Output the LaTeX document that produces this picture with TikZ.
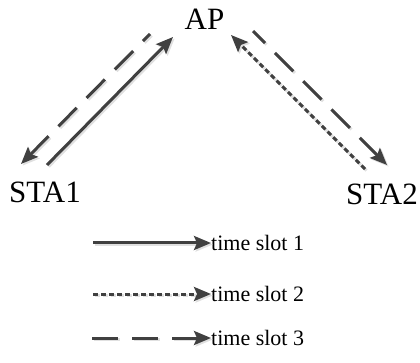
\documentclass[tikz,border=0pt]{standalone}
\usepackage{fontspec}
\setmainfont{Liberation Serif}
\usetikzlibrary{arrows.meta}
\definecolor{ink}{HTML}{404040}
\tikzset{
  arr/.style={draw=ink, line width=3pt, #1,
    -{Stealth[length=17pt,width=14pt,inset=3pt]},
    preaction={draw=black!12, line width=3pt, #1,
      transform canvas={shift={(1.6pt,-1.6pt)}}}},
  arr/.default={solid},
  slotone/.style={arr=solid},
  slottwo/.style={arr={dash pattern=on 5pt off 3pt}},
  slotthree/.style={arr={dash pattern=on 26pt off 14pt}},
  slotthreeph/.style={arr={dash pattern=on 26pt off 14pt, dash phase=#1}},
  big/.style={inner sep=0pt, font=\fontsize{31}{36}\selectfont},
  legtext/.style={inner sep=0pt, anchor=west, font=\fontsize{22}{26}\selectfont},
}
\begin{document}
\begin{tikzpicture}[x=1pt,y=-1pt]
\useasboundingbox (0,0) rectangle (420,363);
\node[big] (AP) at (204.5,19) {AP};
\node[big] (STA1) at (45,192.5) {STA1};
\node[big] (STA2) at (382,194.5) {STA2};
% arrow end points
\coordinate (s1a) at (47,165);
\coordinate (s1b) at (173,37);
\coordinate (d1a) at (150,34);
\coordinate (d1b) at (21,164);
\coordinate (d2a) at (253,31);
\coordinate (d2b) at (387,165);
\coordinate (t2a) at (365,169);
\coordinate (t2b) at (231,35);
\draw[slotone] (s1a) -- (s1b);
\draw[slotthreeph=16pt] (d1a) -- (d1b);
\draw[slotthreeph=9pt] (d2a) -- (d2b);
\draw[slottwo] (t2a) -- (t2b);
% legend
\node[legtext] (L1) at (211,243) {time slot 1};
\node[legtext] (L2) at (211,294) {time slot 2};
\node[legtext] (L3) at (211,338) {time slot 3};
\coordinate (l1) at (93,243);
\coordinate (l2) at (93,294);
\coordinate (l3) at (92,338);
\draw[slotone] (l1) -- (L1.west);
\draw[slottwo] (l2) -- (L2.west);
\draw[slotthree] (l3) -- (L3.west);
\end{tikzpicture}
\end{document}
